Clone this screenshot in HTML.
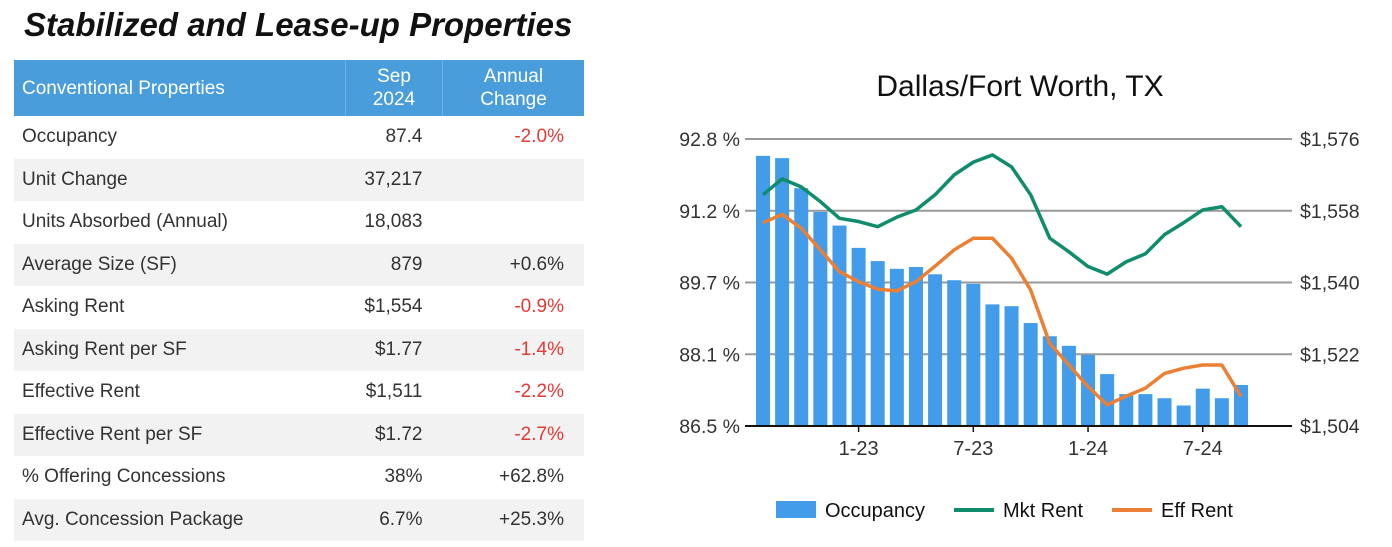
<!DOCTYPE html>
<html><head><meta charset="utf-8"><style>
body{margin:0;width:1392px;height:547px;background:#fff;position:relative;overflow:hidden;font-family:"Liberation Sans",sans-serif}
#title{position:absolute;left:24px;top:6px;font-size:33px;font-weight:bold;font-style:italic;color:#111}
table{position:absolute;left:14px;top:60px;width:570px;border-collapse:collapse;font-size:19px;color:#333}
th{background:#4a9ddb;color:#fff;font-weight:normal;height:56px;padding:0;line-height:23px}
td{height:42.5px;padding:0}
tr.g td{background:#f2f2f2}
.l{text-align:left;padding-left:8px}
.v{text-align:right;padding-right:20px}
.c{text-align:right;padding-right:20px}
.r{color:#e53935}
</style></head><body>
<div id="title">Stabilized and Lease-up Properties</div>
<table>
<tr><th class="l" style="width:323px;border-right:1px solid #6db0e3">Conventional Properties</th><th style="width:96px;border-right:1px solid #6db0e3">Sep<br>2024</th><th>Annual<br>Change</th></tr>
<tr><td class="l">Occupancy</td><td class="v">87.4</td><td class="c r">-2.0%</td></tr>
<tr class="g"><td class="l">Unit Change</td><td class="v">37,217</td><td class="c"></td></tr>
<tr><td class="l">Units Absorbed (Annual)</td><td class="v">18,083</td><td class="c"></td></tr>
<tr class="g"><td class="l">Average Size (SF)</td><td class="v">879</td><td class="c">+0.6%</td></tr>
<tr><td class="l">Asking Rent</td><td class="v">$1,554</td><td class="c r">-0.9%</td></tr>
<tr class="g"><td class="l">Asking Rent per SF</td><td class="v">$1.77</td><td class="c r">-1.4%</td></tr>
<tr><td class="l">Effective Rent</td><td class="v">$1,511</td><td class="c r">-2.2%</td></tr>
<tr class="g"><td class="l">Effective Rent per SF</td><td class="v">$1.72</td><td class="c r">-2.7%</td></tr>
<tr><td class="l">% Offering Concessions</td><td class="v">38%</td><td class="c">+62.8%</td></tr>
<tr class="g"><td class="l">Avg. Concession Package</td><td class="v">6.7%</td><td class="c">+25.3%</td></tr>
</table>
<svg id="chart" width="1392" height="547" style="position:absolute;left:0;top:0"></svg>
<script>
const occupancy=[92.43,92.38,91.72,91.2,90.9,90.41,90.12,89.95,89.99,89.83,89.7,89.62,89.17,89.13,88.76,88.47,88.26,88.06,87.64,87.2,87.2,87.11,86.95,87.32,87.11,87.4];
const mktRent=[1562,1566,1564,1560.3,1556.1,1555.3,1554,1556.4,1558.2,1562,1567,1570.2,1572,1569,1562,1551.1,1547.7,1544,1542.1,1545.2,1547.2,1552,1555,1558.2,1559,1554];
const effRent=[1555,1557.1,1553.6,1548.2,1542.7,1540.2,1538.3,1537.9,1540.2,1544.1,1548.2,1551.1,1551.1,1546.1,1538.1,1524.7,1519.3,1513.9,1509.3,1511.5,1513.5,1517.2,1518.5,1519.3,1519.3,1511.4];
const leftTicks=["92.8 %","91.2 %","89.7 %","88.1 %","86.5 %"];
const rightTicks=["$1,576","$1,558","$1,540","$1,522","$1,504"];
const xTickLabels=["1-23","7-23","1-24","7-24"];
const xTickIndex=[5,11,17,23];
const svg=document.getElementById('chart');const NS='http://www.w3.org/2000/svg';
function mk(t,a,p){const e=document.createElementNS(NS,t);for(const k in a)e.setAttribute(k,a[k]);(p||svg).appendChild(e);return e;}
const yTop=139,yBot=426,x0=763,dx=19.12;
const yL=v=>yBot-(v-86.5)/(92.8-86.5)*(yBot-yTop);
const yR=v=>yBot-(v-1504)/(1576-1504)*(yBot-yTop);
const xI=i=>x0+i*dx;
let t=mk('text',{x:1020,y:96,'text-anchor':'middle','font-size':30,fill:'#111'});t.textContent='Dallas/Fort Worth, TX';


for(let k=0;k<5;k++){const y=yTop+k*(yBot-yTop)/4;
 if(k<4){const g=mk('line',{x1:745,x2:1292,y1:y,y2:y,stroke:'#999','stroke-width':2});
 
 }
 const a=mk('text',{x:740,y:y+7,'text-anchor':'end','font-size':19.5,fill:'#333'});a.textContent=leftTicks[k];
 
 
 const b=mk('text',{x:1300,y:y+7,'font-size':19.5,fill:'#333'});b.textContent=rightTicks[k];
 
 }
occupancy.forEach((v,i)=>{const r=mk('rect',{x:xI(i)-7,y:yL(v),width:14,height:yBot-yL(v),fill:'#439cea'});
 
 });
const ax=mk('line',{x1:745,x2:1292,y1:yBot,y2:yBot,stroke:'#111','stroke-width':2});


xTickIndex.forEach((ix,k)=>{mk('line',{x1:xI(ix),x2:xI(ix),y1:yBot,y2:yBot+6,stroke:'#111','stroke-width':1.5});
 const l=mk('text',{x:xI(ix),y:455,'text-anchor':'middle','font-size':20,fill:'#333'});l.textContent=xTickLabels[k];
 
 });
const g1=mk('polyline',{points:mktRent.map((v,i)=>xI(i)+','+yR(v)).join(' '),fill:'none',stroke:'#0e8c6c','stroke-width':3.5,'stroke-linejoin':'round'});


const g2=mk('polyline',{points:effRent.map((v,i)=>xI(i)+','+yR(v)).join(' '),fill:'none',stroke:'#eb8035','stroke-width':3.5,'stroke-linejoin':'round'});


const lg=mk('g',{});


mk('rect',{x:776,y:501,width:40,height:17,fill:'#439cea'},lg);
mk('line',{x1:954,x2:994,y1:510,y2:510,stroke:'#0e8c6c','stroke-width':4},lg);
mk('line',{x1:1112,x2:1152,y1:510,y2:510,stroke:'#eb8035','stroke-width':4},lg);
[['Occupancy',825],['Mkt Rent',1003],['Eff Rent',1161]].forEach(([s,x])=>{const e=mk('text',{x:x,y:517,'font-size':20,fill:'#111'},lg);e.textContent=s;
 
 });
</script>
</body></html>
